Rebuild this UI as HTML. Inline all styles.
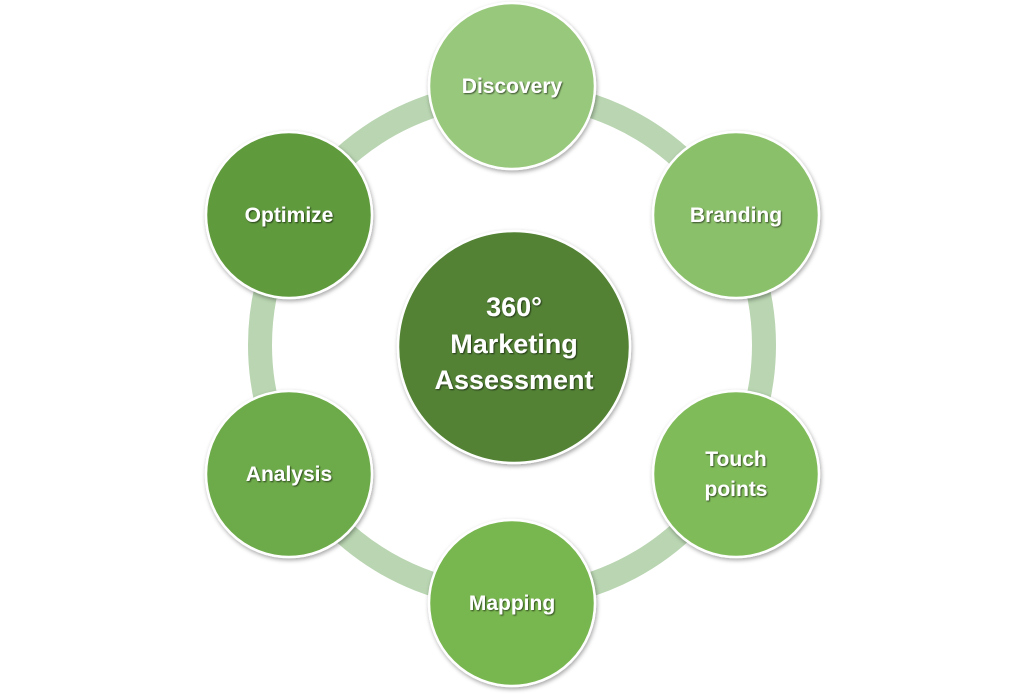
<!DOCTYPE html>
<html><head><meta charset="utf-8"><style>
html,body{margin:0;padding:0;background:#fff;width:1024px;height:695px;overflow:hidden}
text{font-family:"Liberation Sans",sans-serif;font-weight:bold;fill:#fff;text-anchor:middle}
</style></head><body>
<svg width="1024" height="695" viewBox="0 0 1024 695" xmlns="http://www.w3.org/2000/svg">
<defs>
<filter id="sh" x="-20%" y="-20%" width="140%" height="140%"><feDropShadow dx="1" dy="2" stdDeviation="2" flood-color="#000" flood-opacity="0.35"/></filter>
<filter id="ts" x="-10%" y="-30%" width="120%" height="160%"><feDropShadow dx="1" dy="1" stdDeviation="0.8" flood-color="#000" flood-opacity="0.6"/></filter>
</defs>
<circle cx="512" cy="345" r="252" fill="none" stroke="#b9d5b1" stroke-width="24"/>
<g stroke="#fff" stroke-width="2.5" filter="url(#sh)">
<circle cx="512" cy="86" r="83" fill="#98c87c"/>
<circle cx="736" cy="215" r="83" fill="#8bc06a"/>
<circle cx="736" cy="474" r="83" fill="#80bb5a"/>
<circle cx="512" cy="603" r="83" fill="#78b650"/>
<circle cx="289" cy="474" r="83" fill="#6daa48"/>
<circle cx="289" cy="215" r="83" fill="#5f9a3c"/>
<circle cx="514" cy="347" r="116" fill="#538234"/>
</g>
<g filter="url(#ts)" font-size="21">
<text x="512" y="93">Discovery</text>
<text x="736" y="222">Branding</text>
<text x="736" y="466">Touch</text>
<text x="736" y="496">points</text>
<text x="512" y="610">Mapping</text>
<text x="289" y="481">Analysis</text>
<text x="289" y="222">Optimize</text>
<text x="514" y="316" font-size="27">360°</text>
<text x="514" y="353" font-size="27">Marketing</text>
<text x="514" y="389" font-size="27">Assessment</text>
</g>
</svg>
</body></html>
